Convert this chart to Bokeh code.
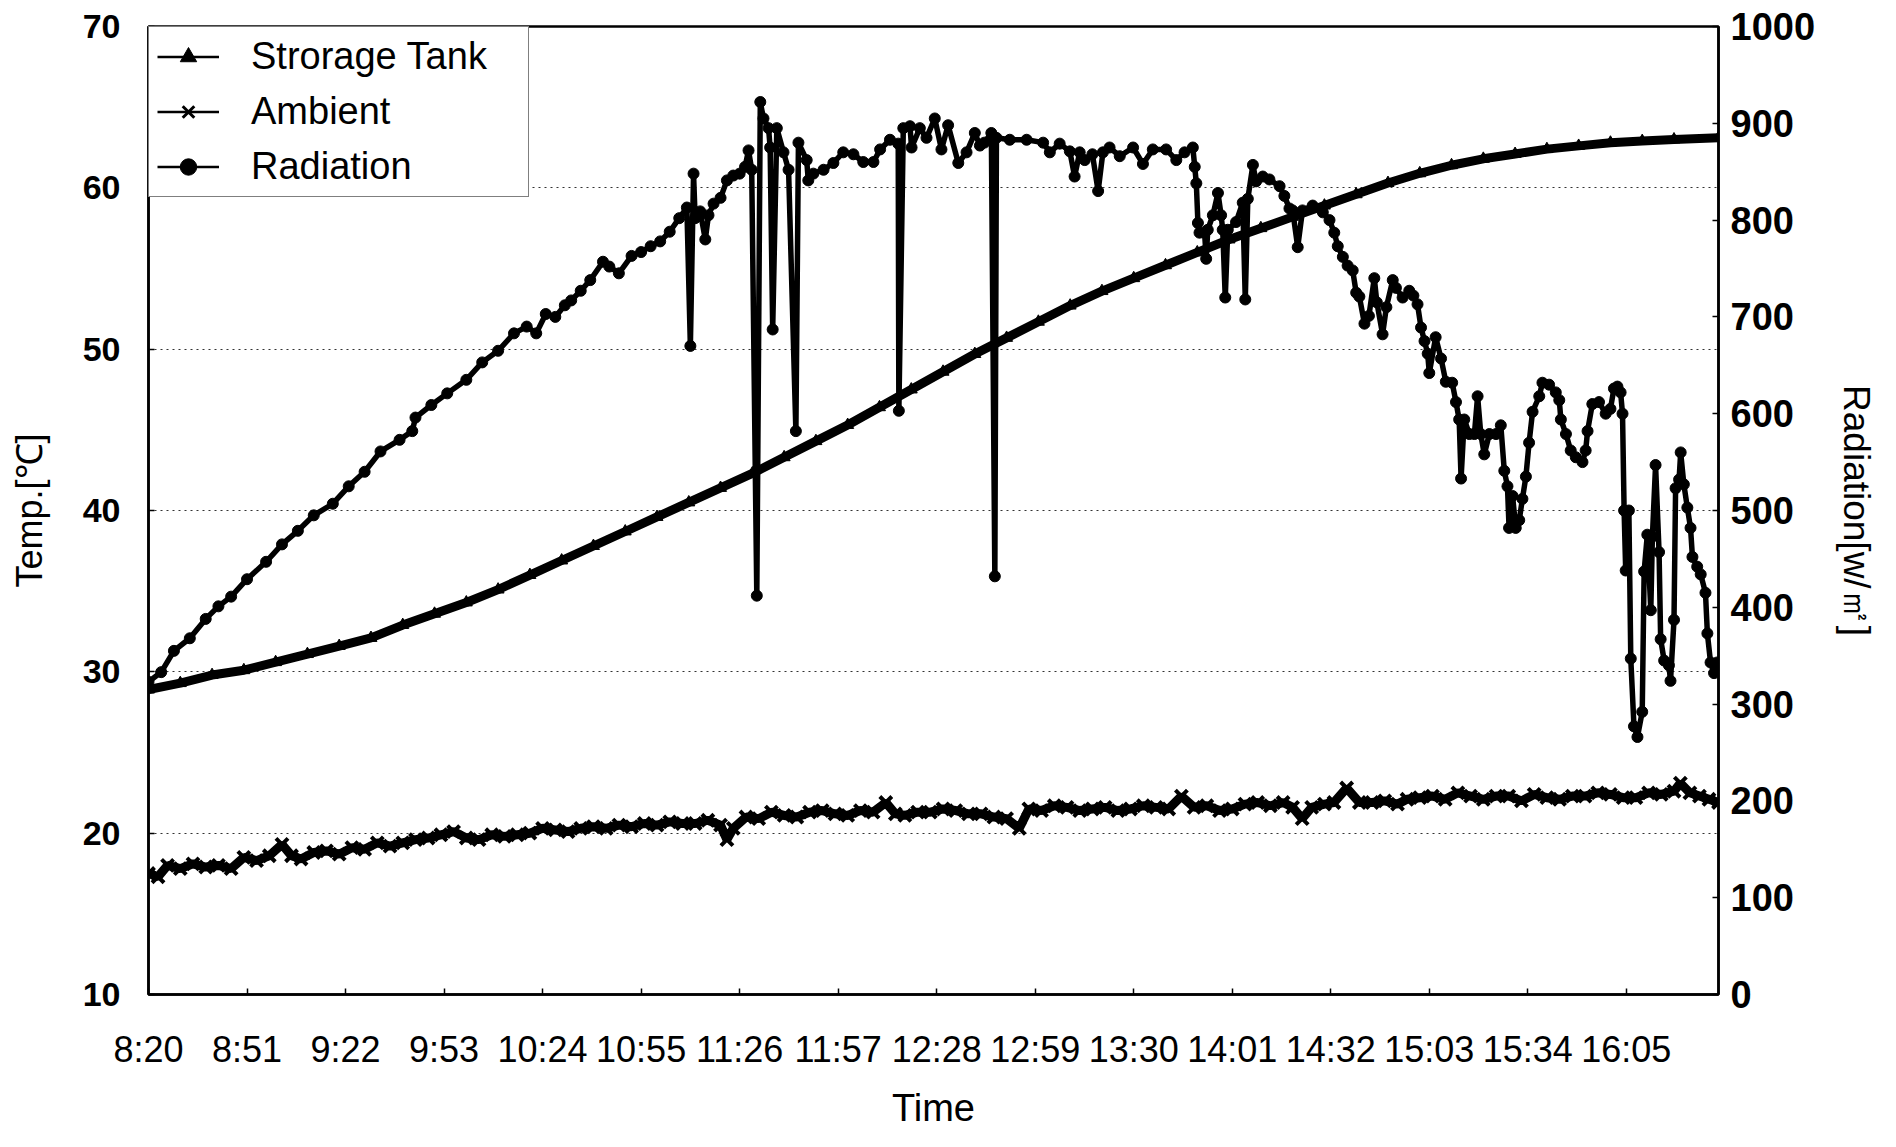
from bokeh.plotting import figure
from bokeh.models import Range1d, LinearAxis, FixedTicker, Legend, LegendItem
from bokeh.embed import file_html
from bokeh.resources import INLINE

# ---------------- data (x = minutes after 8:20) ----------------
tick_minutes = [0, 31, 62, 93, 124, 155, 186, 217, 248, 279, 310, 341, 372, 403, 434, 465]
tick_labels = ["8:20", "8:51", "9:22", "9:53", "10:24", "10:55", "11:26", "11:57",
               "12:28", "12:59", "13:30", "14:01", "14:32", "15:03", "15:34", "16:05"]

storage_t = [0, 10, 20, 30, 40, 50, 60, 70, 80, 90, 100, 110, 120, 130, 140, 150, 160,
             170, 180, 190, 200, 210, 220, 230, 240, 250, 260, 270, 280, 290, 300, 310,
             320, 330, 340, 350, 360, 370, 380, 390, 400, 410, 420, 430, 440, 450, 460,
             470, 480, 494]
storage_v = [28.9, 29.3, 29.8, 30.1, 30.6, 31.1, 31.6, 32.1, 32.9, 33.6, 34.3, 35.1, 36.0,
             36.9, 37.8, 38.7, 39.6, 40.5, 41.4, 42.3, 43.3, 44.3, 45.3, 46.4, 47.5, 48.6,
             49.7, 50.7, 51.7, 52.7, 53.6, 54.4, 55.2, 56.0, 56.8, 57.5, 58.2, 58.9, 59.6,
             60.3, 60.9, 61.4, 61.8, 62.1, 62.4, 62.6, 62.8, 62.9, 63.0, 63.1]

ambient_t = [0, 3, 6, 10, 14, 18, 22, 26, 30, 34, 38, 42, 45, 48, 52, 56, 60, 64, 68, 72,
             76, 80, 84, 88, 92, 96, 100, 104, 108, 112, 116, 120, 124, 128, 132, 136, 140,
             144, 148, 152, 156, 160, 164, 168, 172, 176, 180, 182, 184, 188, 192, 196, 200,
             204, 208, 212, 216, 220, 224, 228, 232, 235, 238, 242, 246, 250, 254, 258, 262,
             266, 270, 274, 277, 281, 285, 289, 293, 297, 301, 305, 309, 313, 317, 321, 325,
             329, 333, 337, 341, 345, 349, 353, 357, 360, 363, 366, 370, 373, 377, 381, 385,
             389, 393, 396, 400, 404, 408, 412, 416, 420, 424, 428, 432, 436, 440, 444, 448,
             452, 456, 460, 464, 468, 472, 476, 480, 482, 485, 488, 491, 494]
ambient_v = [17.5, 17.3, 18.0, 17.8, 18.1, 17.9, 18.0, 17.8, 18.5, 18.3, 18.6, 19.3, 18.6,
             18.4, 18.8, 18.9, 18.7, 19.1, 19.0, 19.4, 19.2, 19.4, 19.6, 19.7, 19.9, 20.1,
             19.7, 19.6, 19.9, 19.8, 19.9, 20.0, 20.3, 20.2, 20.1, 20.3, 20.4, 20.3, 20.5,
             20.4, 20.6, 20.5, 20.7, 20.6, 20.6, 20.8, 20.5, 19.6, 20.3, 21.0, 20.9, 21.3,
             21.1, 21.0, 21.3, 21.4, 21.2, 21.1, 21.4, 21.3, 21.9, 21.2, 21.1, 21.3, 21.3,
             21.5, 21.4, 21.2, 21.2, 21.0, 20.9, 20.3, 21.5, 21.4, 21.7, 21.6, 21.4, 21.5,
             21.6, 21.4, 21.5, 21.7, 21.6, 21.5, 22.3, 21.6, 21.7, 21.4, 21.5, 21.8, 21.9,
             21.7, 21.9, 21.6, 20.9, 21.6, 21.8, 21.9, 22.8, 21.9, 21.9, 22.0, 21.8, 22.1,
             22.2, 22.3, 22.1, 22.5, 22.3, 22.1, 22.3, 22.3, 22.0, 22.4, 22.2, 22.1, 22.3,
             22.3, 22.5, 22.4, 22.2, 22.2, 22.5, 22.4, 22.6, 23.1, 22.5, 22.3, 22.1, 21.9]

radiation_t = [0, 4, 8, 13, 18, 22, 26, 31, 37, 42, 47, 52, 58, 63, 68, 73, 79, 83, 84, 89,
               94, 100, 105, 110, 115, 119, 122, 125, 128, 131, 133, 136, 139, 143, 145, 148,
               152, 155, 158, 161, 164, 167, 169.4, 170.5, 171.5, 172, 173.6, 175.2, 176.2,
               177.8, 180, 182, 184, 186, 187.7, 188.8, 189.8, 191.4, 192.5, 193.5, 195.1,
               195.6, 196.4, 197.7, 199.8, 201.4, 203.7, 204.5, 207.1, 207.6, 209.2, 212.4,
               215.5, 218.6, 221.8, 224.9, 228.1, 230.2, 233.3, 235.9, 236.1, 237.5, 239.6,
               240.1, 242.7, 244.8, 247.4, 249.5, 251.6, 254.8, 257.4, 260, 261.6, 263, 265.2,
               266.3, 266.8, 271, 276.3, 281.5, 283.6, 286.7, 289.9, 291.4, 293, 294.6, 297,
               298.8, 300.3, 302.4, 305.6, 309.8, 312.9, 316, 320.2, 323.4, 326, 328.6, 329.2,
               329.7, 330.2, 330.7, 332.3, 332.8, 333.3, 334.9, 336.5, 337.5, 338, 338.8,
               339.6, 342.2, 344.3, 345.1, 345.9, 347.5, 348.5, 350.6, 352.7, 355.9, 357.4,
               359, 360, 361.6, 363.1, 366.3, 369.5, 371.6, 373.1, 374.2, 375.8, 377.3, 378.9,
               380, 381, 382.6, 384, 385.7, 386.5, 388.3, 389.5, 391.5, 392.5, 394.6, 396.7,
               398, 399.3, 400.4, 401.5, 402.5, 403, 405, 406.7, 408.2, 410.2, 411.4, 412.4,
               413, 414, 415.6, 417.2, 418.2, 419.2, 420.3, 421.9, 424, 425.5, 426.6, 427.6,
               428.1, 429.2, 430.2, 431.3, 432.3, 433.4, 434.4, 435.5, 437.6, 438.6, 440.7,
               442.8, 443.9, 444.4, 446, 447.5, 449.1, 451.2, 452.2, 452.8, 454.3, 456.4,
               458.5, 460, 461.1, 462.2, 463.2, 463.8, 464.3, 464.8, 465.8, 466.4, 467.4,
               468.5, 470, 470.6, 471.6, 472.7, 473.2, 474.2, 475.3, 475.8, 476.9, 478.4,
               478.9, 480, 480.5, 481.6, 482.1, 483.1, 484.2, 485.2, 485.8, 487.3, 488.4,
               489.9, 490.5, 491.5, 492.6, 493.6]
radiation_v = [323, 333, 355, 368, 388, 401, 411, 429, 447, 465, 479, 495, 507, 525, 540, 561,
               573, 582, 596, 609, 621, 635, 653, 665, 683, 690, 683, 703, 700, 712, 717, 727,
               738, 757, 752, 745, 763, 767, 773, 778, 788, 802, 813, 670, 848, 802, 809, 780,
               805, 817, 823, 841, 846, 848, 855, 872, 852, 412, 922, 905, 895, 875, 687, 895,
               870, 852, 582, 880, 862, 841, 848, 852, 859, 870, 868, 860, 860, 873, 883, 879,
               603, 895, 897, 875, 895, 885, 905, 873, 898, 859, 870, 890, 877, 880, 890, 432,
               885, 883, 883, 880, 870, 879, 871, 845, 870, 862, 868, 830, 870, 875, 866, 875,
               858, 873, 873, 862, 870, 875, 855, 838, 797, 787, 787, 760, 790, 805, 828, 805,
               790, 720, 790, 798, 818, 718, 822, 857, 840, 845, 842, 835, 825, 812, 810, 772,
               810, 815, 808, 800, 787, 773, 762, 753, 748, 725, 721, 693, 701, 740, 715, 682,
               710, 738, 730, 720, 727, 722, 713, 689, 675, 662, 642, 679, 657, 633, 632, 612,
               594, 533, 594, 579, 579, 618, 579, 558, 579, 579, 588, 541, 525, 482, 515, 482,
               490, 512, 535, 570, 602, 618, 632, 630, 622, 614, 594, 579, 562, 555, 550, 562,
               582, 610, 612, 600, 605, 626, 628, 622, 600, 500, 438, 500, 347, 277, 266, 292,
               437, 475, 397, 473, 547, 457, 367, 345, 340, 324, 387, 523, 532, 560, 527, 503,
               482, 452, 442, 434, 415, 373, 343, 332, 343]

left_ticks = [10, 20, 30, 40, 50, 60, 70]
right_ticks = [0, 100, 200, 300, 400, 500, 600, 700, 800, 900, 1000]

FONT = "Liberation Sans"
NAN = float("nan")

p = figure(width=1880, height=1131, output_backend="svg", toolbar_location=None,
           x_range=Range1d(0, 494), y_range=Range1d(10, 70),
           min_border_left=148, min_border_right=161, min_border_top=26,
           min_border_bottom=134)
p.extra_y_ranges = {"rad": Range1d(0, 1000)}
p.background_fill_color = "white"
p.border_fill_color = "white"
p.outline_line_color = "black"
p.outline_line_width = 2.5

# grid
p.xgrid.visible = False
p.ygrid.ticker = FixedTicker(ticks=left_ticks)
p.ygrid.grid_line_color = "#333333"
p.ygrid.grid_line_dash = "2 4"
p.ygrid.grid_line_width = 1

# x axis
xa = p.xaxis[0]
xa.ticker = FixedTicker(ticks=tick_minutes)
xa.major_label_overrides = {m: s for m, s in zip(tick_minutes, tick_labels)}
xa.axis_label = "Time"

# left axis
ya = p.yaxis[0]
ya.ticker = FixedTicker(ticks=left_ticks)
ya.axis_label = "Temp.[℃]"

# right axis
ra = LinearAxis(y_range_name="rad", ticker=FixedTicker(ticks=right_ticks),
                axis_label="Radiation[w/㎡]")
p.add_layout(ra, "right")

for ax in (xa, ya, ra):
    ax.axis_line_color = "black"
    ax.axis_line_width = 2.5
    ax.major_tick_in = 6
    ax.major_tick_out = 0
    ax.major_tick_line_color = "black"
    ax.major_tick_line_width = 1.5
    ax.minor_tick_line_color = None
    ax.major_label_text_font = FONT
    ax.major_label_text_color = "black"
    ax.axis_label_text_font = FONT
    ax.axis_label_text_font_style = "normal"
    ax.axis_label_text_color = "black"

xa.major_label_text_font_size = "36px"
xa.major_label_standoff = 34
xa.axis_label_text_font_size = "38px"
xa.axis_label_standoff = 14

ya.major_label_text_font_size = "34px"
ya.major_label_text_font_style = "bold"
ya.axis_label_text_font_size = "36px"
ya.major_label_standoff = 28
ya.axis_label_standoff = 30

ra.major_label_text_font_size = "38px"
ra.major_label_text_font_style = "bold"
ra.axis_label_text_font_size = "37px"
ra.major_label_standoff = 12
ra.axis_label_standoff = 18

# data series
p.line(storage_t, storage_v, line_color="black", line_width=9)
p.scatter(storage_t, storage_v, marker="triangle", size=12, color="black")

p.line(ambient_t, ambient_v, line_color="black", line_width=9)
p.scatter(ambient_t, ambient_v, marker="x", size=17, line_color="black", line_width=4)

p.line(radiation_t, radiation_v, line_color="black", line_width=5.5, y_range_name="rad")
p.scatter(radiation_t, radiation_v, marker="circle", size=11, color="black",
          y_range_name="rad")

# legend swatch renderers (NaN data: nothing drawn in the plot area)
lg_s_line = p.line([0], [NAN], line_color="black", line_width=2.5)
lg_s_mark = p.scatter([0], [NAN], marker="triangle", size=11, color="black")
lg_a_line = p.line([0], [NAN], line_color="black", line_width=2.5)
lg_a_mark = p.scatter([0], [NAN], marker="x", size=11, line_color="black", line_width=3)
lg_r_line = p.line([0], [NAN], line_color="black", line_width=2.5)
lg_r_mark = p.scatter([0], [NAN], marker="circle", size=9, color="black")

legend = Legend(items=[
    LegendItem(label="Strorage Tank", renderers=[lg_s_line, lg_s_mark]),
    LegendItem(label="Ambient", renderers=[lg_a_line, lg_a_mark]),
    LegendItem(label="Radiation", renderers=[lg_r_line, lg_r_mark]),
])
legend.location = "top_left"
legend.margin = 0
legend.padding = 8
legend.spacing = 12
legend.glyph_width = 62
legend.glyph_height = 41
legend.label_standoff = 32
legend.label_width = 269
legend.label_height = 41
legend.label_text_font = FONT
legend.label_text_font_size = "38px"
legend.label_text_color = "black"
legend.border_line_color = "black"
legend.border_line_width = 1.5
legend.background_fill_color = "white"
legend.background_fill_alpha = 1.0
p.add_layout(legend)

open("out.html", "w").write(file_html(p, INLINE))
